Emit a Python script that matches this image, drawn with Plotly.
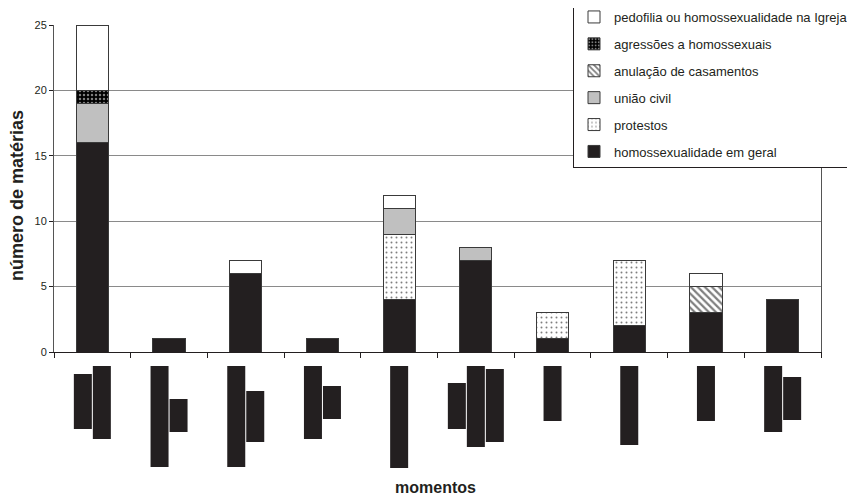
import plotly.graph_objects as go

categories = ["m1", "m2", "m3", "m4", "m5", "m6", "m7", "m8", "m9", "m10"]
homossexualidade = [16, 1, 6, 1, 4, 7, 1, 2, 3, 4]
protestos = [0, 0, 0, 0, 5, 0, 2, 5, 0, 0]
uniao_civil = [3, 0, 0, 0, 2, 1, 0, 0, 0, 0]
anulacao = [0, 0, 0, 0, 0, 0, 0, 0, 2, 0]
agressoes = [1, 0, 0, 0, 0, 0, 0, 0, 0, 0]
pedofilia = [5, 0, 1, 0, 1, 0, 0, 0, 1, 0]
y_ticks = [0, 5, 10, 15, 20, 25]

# redacted (blacked-out) category labels: per category, list of (top, bottom) screen pixel rows
label_boxes = [
    [(374, 429), (366, 439)],
    [(366, 467), (399, 432)],
    [(366, 467), (391, 442)],
    [(366, 439), (386, 419)],
    [(366, 468)],
    [(383, 429), (366, 447), (369, 442)],
    [(366, 421)],
    [(366, 445)],
    [(366, 421)],
    [(366, 432), (377, 420)],
]

W, H = 855, 497
OFF = 8  # page body margin offsets the figure on screen
# target screen geometry of plot area
SX0, SX1, SY0, SY1 = 54, 821, 25, 352
ML = SX0 - OFF
MT = SY0 - OFF
MR = W - (SX1 - OFF)
MB = H - (SY1 - OFF)
plot_w = W - ML - MR
plot_h = H - MT - MB


def py(screen_y):
    return (SY1 - screen_y) / plot_h


def px(screen_x):
    return (screen_x - SX0) / plot_w


DARK = "#231f20"
LINE = dict(color="#3a3a3a", width=1)

fig = go.Figure()
series = [
    ("homossexualidade em geral", homossexualidade, dict(color=DARK, line=LINE)),
    ("protestos", protestos, dict(color="white", line=LINE,
        pattern=dict(shape=".", fgcolor="black", bgcolor="white", size=5, solidity=0.12))),
    ("união civil", uniao_civil, dict(color="#c0c0c0", line=LINE)),
    ("anulação de casamentos", anulacao, dict(color="white", line=LINE,
        pattern=dict(shape="\\", fgcolor="black", bgcolor="white", size=5, solidity=0.45))),
    ("agressões a homossexuais", agressoes, dict(color="black", line=LINE,
        pattern=dict(shape=".", fgcolor="white", bgcolor="black", size=4, solidity=0.3))),
    ("pedofilia ou homossexualidade na Igreja", pedofilia, dict(color="white", line=LINE)),
]
n_series = len(series)
for i, (name, vals, marker) in enumerate(series):
    fig.add_trace(go.Bar(x=categories, y=vals, name=name, marker=marker,
                         legendgroup=f"g{i}", legendrank=n_series - i))

cat_w_px = plot_w / len(categories)
box_w, gap = 18, 1
shapes = []
for ci, boxes in enumerate(label_boxes):
    n = len(boxes)
    total = n * box_w + (n - 1) * gap
    for bi, (top, bot) in enumerate(boxes):
        left = -total / 2 + bi * (box_w + gap)
        shapes.append(dict(
            type="rect", xref="x", yref="paper",
            x0=ci + left / cat_w_px, x1=ci + (left + box_w) / cat_w_px,
            y0=py(bot), y1=py(top),
            fillcolor=DARK, line=dict(width=0), layer="above"))

fig.update_layout(
    width=W, height=H,
    margin=dict(l=ML, r=MR, t=MT, b=MB, autoexpand=False),
    paper_bgcolor="white", plot_bgcolor="white",
    barmode="stack", bargap=0.58,
    font=dict(family="Liberation Sans, Arial, sans-serif", color=DARK, size=11),
    showlegend=True,
    legend=dict(
        x=px(573), y=py(1), xanchor="left", yanchor="top",
        traceorder="grouped", tracegroupgap=7,
        bgcolor="white", bordercolor="#231f20", borderwidth=1,
        font=dict(size=13, color=DARK), itemwidth=30,
    ),
    shapes=shapes,
    annotations=[
        dict(text="<b>momentos</b>", xref="paper", yref="paper",
             x=px(435), y=py(487), xanchor="center", yanchor="middle",
             showarrow=False, font=dict(size=16, color=DARK)),
        dict(text="<b>número de matérias</b>", xref="paper", yref="paper",
             x=px(17), y=py(196), xanchor="center", yanchor="middle",
             textangle=-90, showarrow=False, font=dict(size=18, color=DARK)),
    ],
)
fig.update_xaxes(
    showticklabels=False, ticks="outside", tickson="boundaries", ticklen=5,
    tickcolor=DARK, showline=True, linecolor=DARK, linewidth=1, showgrid=False,
)
fig.update_yaxes(
    range=[0, 25], tickvals=y_ticks, ticks="outside", ticklen=4, tickcolor=DARK,
    showline=True, linecolor="#555555", linewidth=1, mirror=True,
    showgrid=True, gridcolor="#8a8a8a", gridwidth=1, zeroline=False,
    tickfont=dict(size=11, color=DARK),
)

fig.write_html("out.html")
